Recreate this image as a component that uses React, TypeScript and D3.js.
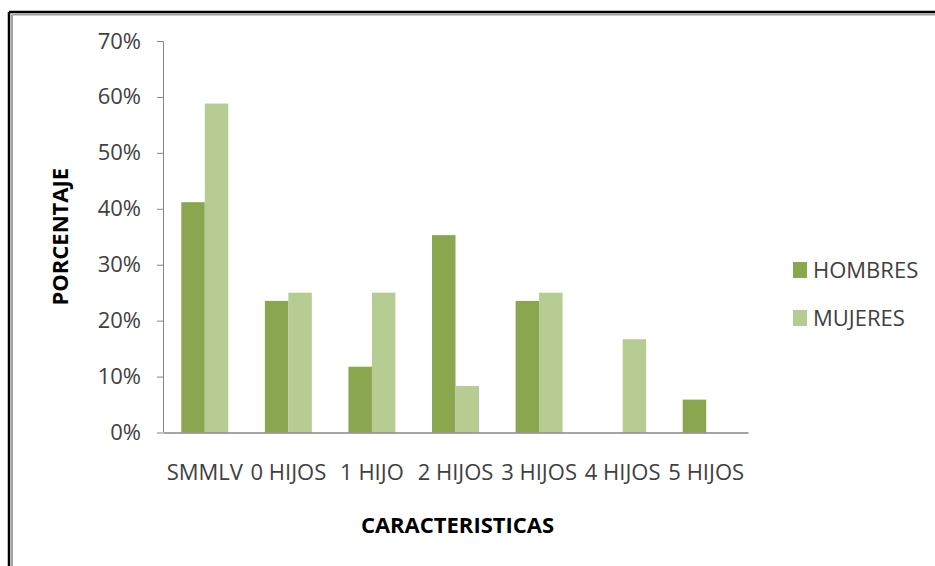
import React, { useEffect, useMemo, useRef } from "react";
import * as d3 from "d3";

const WIDTH = 935;
const HEIGHT = 566;
const MARGIN = { top: 41, right: 187, bottom: 133.5, left: 163 };

const categories = ["SMMLV", "0 HIJOS", "1 HIJO", "2 HIJOS", "3 HIJOS", "4 HIJOS", "5 HIJOS"];
const hombres = [41.18, 23.53, 11.76, 35.29, 23.53, 0, 5.88];
const mujeres = [58.82, 25, 25, 8.33, 25, 16.67, 0];
const seriesNames = ["HOMBRES", "MUJERES"];
const yTicks = [0, 10, 20, 30, 40, 50, 60, 70];

const COLORS = ["#8aa64e", "#b6cc92"];
const FONT = "'Open Sans', 'DejaVu Sans', sans-serif";

const App = () => {
  const axesRef = useRef<SVGGElement>(null);
  const boundsWidth = WIDTH - MARGIN.left - MARGIN.right;
  const boundsHeight = HEIGHT - MARGIN.top - MARGIN.bottom;

  const xScale = useMemo(
    () => d3.scaleBand().domain(categories).range([0, boundsWidth]).paddingInner(0).paddingOuter(0),
    [boundsWidth]
  );
  const inner = useMemo(
    () =>
      d3
        .scaleBand()
        .domain(seriesNames)
        .range([xScale.bandwidth() * 0.219, xScale.bandwidth() * 0.781]),
    [xScale]
  );
  const yScale = useMemo(() => d3.scaleLinear().domain([0, 70]).range([boundsHeight, 0]), [boundsHeight]);

  // axes through d3
  useEffect(() => {
    const g = d3.select(axesRef.current);
    g.selectAll("*").remove();

    const yAxis = g
      .append("g")
      .call(
        d3
          .axisLeft(yScale)
          .tickValues(yTicks)
          .tickSize(6)
          .tickPadding(16)
          .tickFormat((d) => `${d}%`)
      );
    yAxis.select(".domain").attr("stroke", "#868686").attr("d", `M-6,0.5H0.5V${boundsHeight}`);
    yAxis.selectAll(".tick line").attr("stroke", "#868686");
    yAxis
      .selectAll("text")
      .attr("fill", "#404040")
      .style("font-family", FONT)
      .style("font-size", "22px");

    const xAxis = g
      .append("g")
      .attr("transform", `translate(0,${boundsHeight})`)
      .call(d3.axisBottom(xScale).tickSize(0).tickPadding(32));
    xAxis.select(".domain").attr("stroke", "#868686").attr("stroke-width", 1.5);
    xAxis
      .selectAll("text")
      .attr("fill", "#404040")
      .style("font-family", FONT)
      .style("font-size", "22px");
  }, [xScale, yScale, boundsHeight]);

  const bars = categories.flatMap((c, i) =>
    [hombres[i], mujeres[i]].map((v, s) => (
      <rect
        key={`${c}-${s}`}
        x={(xScale(c) ?? 0) + (inner(seriesNames[s]) ?? 0)}
        y={yScale(v)}
        width={inner.bandwidth()}
        height={boundsHeight - yScale(v)}
        fill={COLORS[s]}
      />
    ))
  );

  return (
    <svg
      width={WIDTH}
      height={HEIGHT}
      style={{ position: "absolute", left: 0, top: 0, background: "#fff" }}
    >
      <rect x={0} y={0} width={WIDTH} height={HEIGHT} fill="#fff" />
      {/* frame, only top and left visible */}
      <line x1={9} y1={12} x2={WIDTH} y2={12} stroke="#000" strokeWidth={2.5} />
      <line x1={9} y1={12} x2={9} y2={HEIGHT} stroke="#000" strokeWidth={2.5} />
      <line x1={12} y1={14.5} x2={WIDTH} y2={14.5} stroke="#a0a0a0" strokeWidth={2} />
      <line x1={12} y1={14.5} x2={12} y2={HEIGHT} stroke="#a0a0a0" strokeWidth={2} />

      <g transform={`translate(${MARGIN.left},${MARGIN.top})`}>{bars}</g>
      <g ref={axesRef} transform={`translate(${MARGIN.left},${MARGIN.top})`} />

      <text
        transform={`translate(68,${MARGIN.top + boundsHeight / 2}) rotate(-90)`}
        textAnchor="middle"
        fontFamily={FONT}
        fontWeight="bold"
        fontSize={22}
        fill="#000"
      >
        PORCENTAJE
      </text>
      <text
        x={MARGIN.left + boundsWidth / 2 + 2}
        y={533}
        textAnchor="middle"
        fontFamily={FONT}
        fontWeight="bold"
        fontSize={22}
        fill="#000"
      >
        CARACTERISTICAS
      </text>

      {seriesNames.map((name, i) => (
        <g key={name} transform={`translate(793,${262 + i * 48})`}>
          <rect width={14} height={16} fill={COLORS[i]} />
          <text x={20} y={16} fontFamily={FONT} fontSize={22} fill="#404040">
            {name}
          </text>
        </g>
      ))}
    </svg>
  );
};

export default App;
